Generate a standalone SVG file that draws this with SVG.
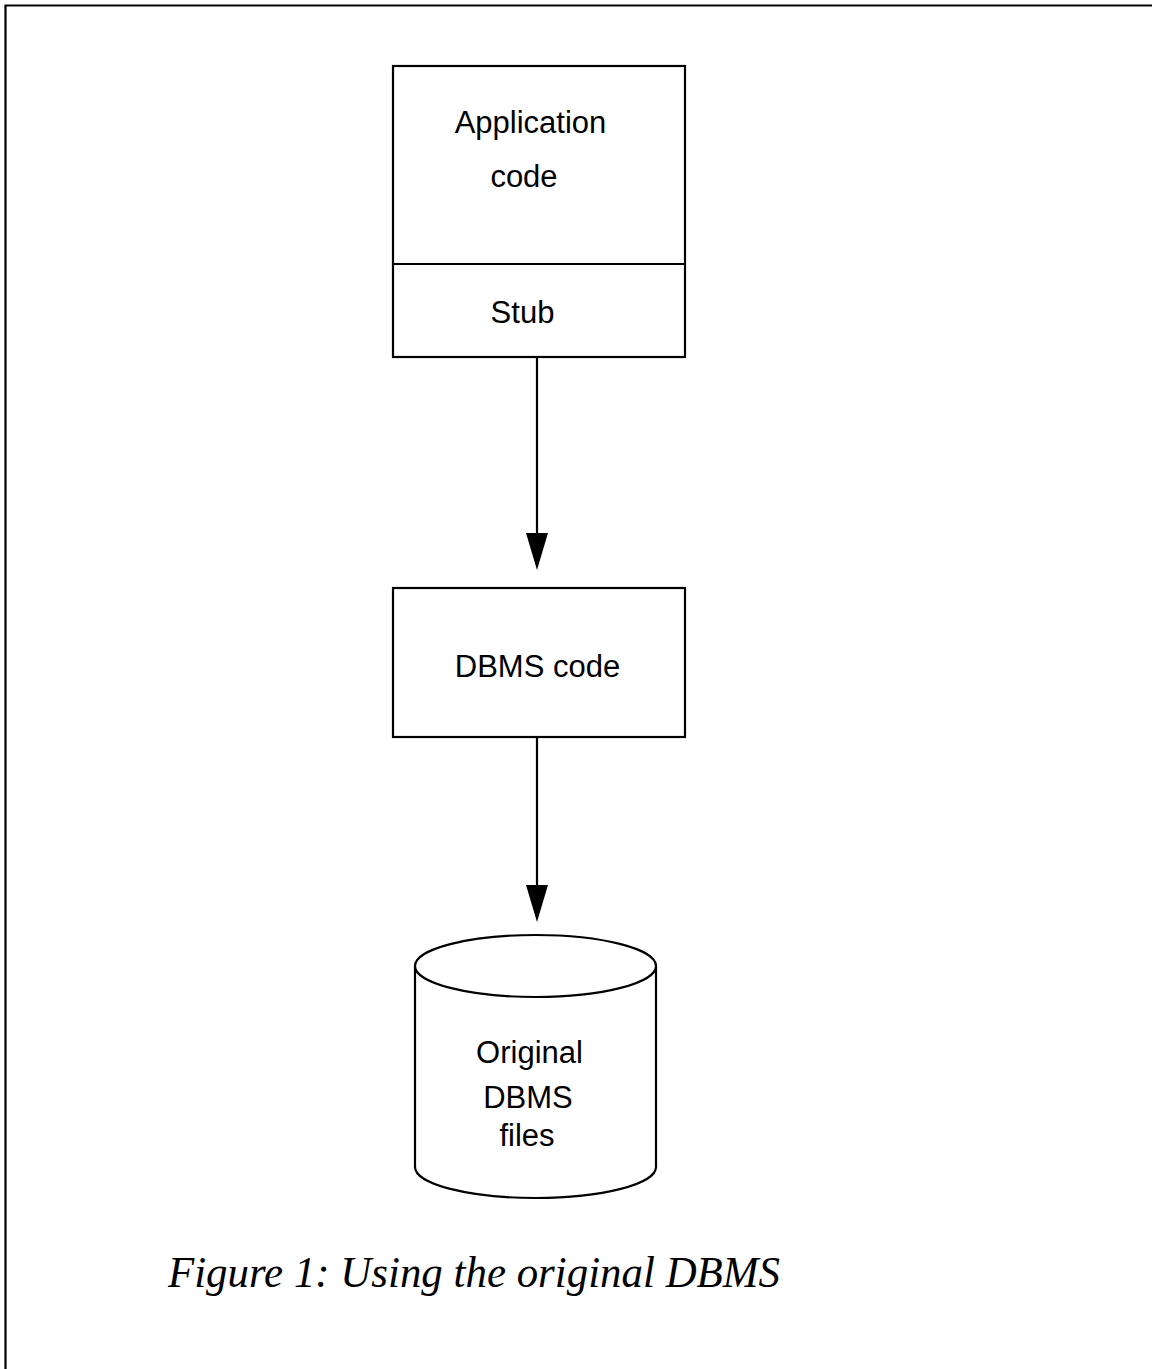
<svg xmlns="http://www.w3.org/2000/svg" width="1152" height="1369" viewBox="0 0 1152 1369">
<style>
.box{fill:#fff;stroke:#000;stroke-width:2.2}
.lbl{font-family:"Liberation Sans",Arial,sans-serif;font-size:31px;fill:#000;text-anchor:middle}
.cap{font-family:"Liberation Serif","Times New Roman",serif;font-style:italic;font-size:44px;fill:#000}
.conn{stroke:#000;stroke-width:2.2;fill:none}
.head{fill:#000}
</style>
<rect width="1152" height="1369" fill="#fff"/>
<path d="M5.5,1369 V5.5 H1152" fill="none" stroke="#000" stroke-width="2.2"/>
<g id="app">
<rect class="box" x="393" y="66" width="292" height="291"/>
<line class="conn" x1="393" y1="264" x2="685" y2="264"/>
<text class="lbl" x="530.5" y="133">Application</text>
<text class="lbl" x="524" y="187">code</text>
<text class="lbl" x="522.5" y="323">Stub</text>
</g>
<g id="dbms">
<rect class="box" x="393" y="588" width="292" height="149"/>
<text class="lbl" x="537.5" y="677">DBMS code</text>
</g>
<g id="files">
<path class="box" d="M415,966 V1167 A120.5,31 0 0 0 656,1167 V966"/>
<ellipse class="box" cx="535.5" cy="966" rx="120.5" ry="31"/>
<text class="lbl" x="529.5" y="1063">Original</text>
<text class="lbl" x="528" y="1108">DBMS</text>
<text class="lbl" x="527" y="1146">files</text>
</g>
<g id="connectors">
<line class="conn" x1="537" y1="358" x2="537" y2="540"/>
<path class="head" d="M526,533 L548,533 L537,570 Z"/>
<line class="conn" x1="537" y1="737" x2="537" y2="890"/>
<path class="head" d="M526,885 L548,885 L537,922 Z"/>
</g>
<text class="cap" x="168" y="1287" textLength="612" lengthAdjust="spacingAndGlyphs">Figure 1: Using the original DBMS</text>
</svg>
